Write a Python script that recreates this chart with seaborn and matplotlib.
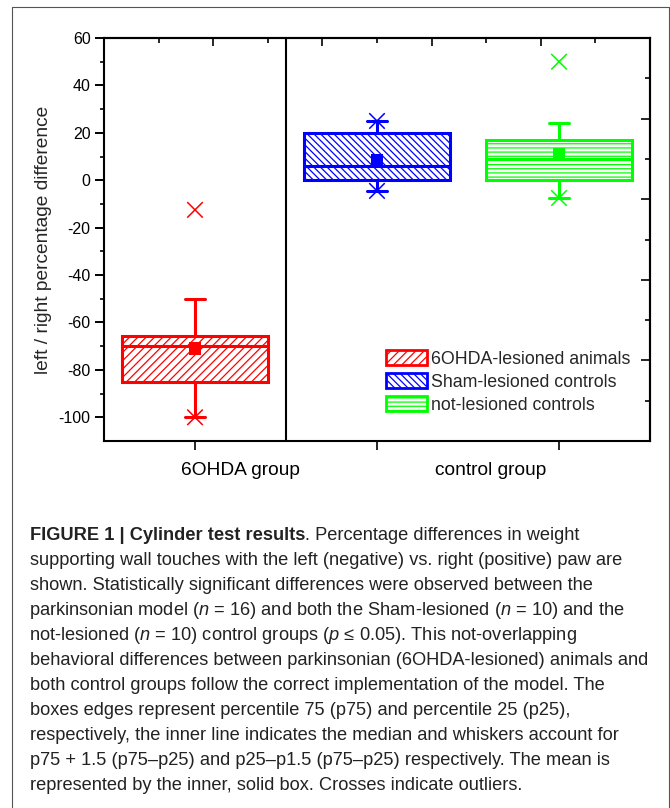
import numpy as np
import pandas as pd
import matplotlib
matplotlib.use("Agg")
import matplotlib.pyplot as plt
import seaborn as sns
from matplotlib.patches import Patch
from matplotlib.lines import Line2D
from matplotlib import font_manager

# ---------------- data ----------------
groups = ["6OHDA-lesioned animals", "Sham-lesioned controls", "not-lesioned controls"]
positions = [1, 3, 5]
colors = ["#FF0000", "#0000FF", "#00FF00"]
hatches = ["////", "\\\\\\\\\\", "----"]
q1 = [-85.0, 0.0, 0.0]
median = [-70.0, 6.0, 9.0]
q3 = [-65.5, 20.0, 17.0]
whisker_low = [-100.0, -4.5, -7.5]
whisker_high = [-50.0, 25.0, 24.0]
means = [-71.0, 8.5, 11.0]
minimum = [-100.0, -4.5, -7.5]
maximum = [-12.5, 25.0, 50.0]

group_labels = ["6OHDA group", "control group"]
group_label_x = [1.5, 4.25]
yticks_major = [-100, -80, -60, -40, -20, 0, 20, 40, 60]
yticks_minor = [-90, -70, -50, -30, -10, 10, 30, 50]
top_ticks_major = [1.2, 2.4, 3.6, 4.8]
top_ticks_minor = [0.6, 1.8, 3.0, 4.2, 5.4]
right_ticks_major = [26, -8, -42, -76]
right_ticks_minor = [43, 9, -25, -59, -93]
ylabel = "left / right percentage difference"

caption_bold = "FIGURE 1 | Cylinder test results"
caption_lines = [
    ". Percentage differences in weight",
    "supporting wall touches with the left (negative) vs. right (positive) paw are",
    "shown. Statistically significant differences were observed between the",
    "parkinsonian model ($n$ = 16) and both the Sham-lesioned ($n$ = 10) and the",
    "not-lesioned ($n$ = 10) control groups ($p$ \u2264 0.05). This not-overlapping",
    "behavioral differences between parkinsonian (6OHDA-lesioned) animals and",
    "both control groups follow the correct implementation of the model. The",
    "boxes edges represent percentile 75 (p75) and percentile 25 (p25),",
    "respectively, the inner line indicates the median and whiskers account for",
    "p75 + 1.5 (p75\u2013p25) and p25\u2013p1.5 (p75\u2013p25) respectively. The mean is",
    "represented by the inner, solid box. Crosses indicate outliers.",
]

# ---------------- style ----------------
sns.set_theme(style="ticks")
names = {f.name for f in font_manager.fontManager.ttflist}
cap_family = "Liberation Sans Narrow" if "Liberation Sans Narrow" in names else "Liberation Sans"
plt.rcParams["font.family"] = ["Liberation Sans", "DejaVu Sans"]
plt.rcParams["mathtext.fontset"] = "custom"
plt.rcParams["mathtext.rm"] = cap_family
plt.rcParams["mathtext.it"] = cap_family + ":italic"
plt.rcParams["hatch.linewidth"] = 0.9
plt.rcParams["axes.linewidth"] = 1.5

W, H = 670, 808
fig = plt.figure(figsize=(W / 100, H / 100), dpi=100)
fig.patch.set_facecolor("white")
L, R, T, B = 104, 650, 38, 441
ax = fig.add_axes([L / W, 1 - B / H, (R - L) / W, (B - T) / H])
ax.set_facecolor("white")

# ---------------- boxes ----------------
stats = []
for i in range(len(groups)):
    stats.append(dict(med=median[i], q1=q1[i], q3=q3[i], whislo=whisker_low[i],
                      whishi=whisker_high[i], mean=means[i], fliers=[], label=groups[i]))
bp = ax.bxp(stats, positions=positions, widths=1.6, capwidths=0.22, patch_artist=True,
            showmeans=False, showfliers=False, manage_ticks=False)
for i in range(len(groups)):
    c = colors[i]
    bp["boxes"][i].set(facecolor="white", edgecolor=c, linewidth=2.2, hatch=hatches[i], zorder=3)
    bp["medians"][i].set(color=c, linewidth=2.2, zorder=4)
    for j in (2 * i, 2 * i + 1):
        bp["whiskers"][j].set(color=c, linewidth=2.2, zorder=2)
        bp["caps"][j].set(color=c, linewidth=2.2, zorder=2)

df_mean = pd.DataFrame({"x": positions, "y": means, "g": groups})
sns.scatterplot(data=df_mean, x="x", y="y", hue="g", palette=colors, marker="s", s=78,
                edgecolor="none", linewidth=0, legend=False, ax=ax, zorder=6)
df_ext = pd.DataFrame({"x": positions * 2, "y": minimum + maximum, "g": groups * 2})
sns.scatterplot(data=df_ext, x="x", y="y", hue="g", palette=colors, marker="x", s=125,
                linewidth=1.1, legend=False, ax=ax, zorder=6)

ax.axvline(2, color="black", lw=1.5, zorder=1)

# ---------------- axes ----------------
ax.set_xlim(0, 6)
ax.set_ylim(-110, 60)
ax.set_xlabel("")
ax.set_ylabel(ylabel, fontsize=13.8, labelpad=5)
ax.set_yticks(yticks_major)
ax.set_yticks(yticks_minor, minor=True)
ax.set_yticklabels([str(v) for v in yticks_major], fontsize=11.5)
ax.set_xticks(positions)
ax.set_xticklabels([])
ax.tick_params(axis="y", which="major", direction="out", length=6.2, width=1.4, pad=3.5, colors="black")
ax.tick_params(axis="y", which="minor", direction="out", length=3.1, width=1.4)
ax.tick_params(axis="x", which="major", direction="out", length=6.5, width=1.4)
ax.tick_params(axis="x", which="minor", bottom=False)
for s in ax.spines.values():
    s.set_visible(True)
    s.set_color("black")
    s.set_linewidth(1.5)

sec_x = ax.secondary_xaxis("top")
sec_x.set_xticks(top_ticks_major)
sec_x.set_xticks(top_ticks_minor, minor=True)
sec_x.tick_params(which="both", direction="in", labeltop=False, width=1.4)
sec_x.tick_params(which="major", length=6.0)
sec_x.tick_params(which="minor", length=3.6)
sec_x.spines["top"].set_linewidth(1.5)

sec_y = ax.secondary_yaxis("right")
sec_y.set_yticks(right_ticks_major)
sec_y.set_yticks(right_ticks_minor, minor=True)
sec_y.tick_params(which="both", direction="in", labelright=False, width=1.4)
sec_y.tick_params(which="major", length=6.5)
sec_y.tick_params(which="minor", length=3.6)
sec_y.spines["right"].set_linewidth(1.5)

for lab, xx in zip(group_labels, group_label_x):
    ax.text(xx, -0.072, lab, transform=ax.get_xaxis_transform(), ha="center", va="center",
            fontsize=13.8, color="black")

# ---------------- legend ----------------
handles = [Patch(facecolor="white", edgecolor=colors[i], hatch=hatches[i], linewidth=2.0)
           for i in range(len(groups))]
ax.legend(handles, groups, loc="upper left", bbox_to_anchor=(0.516, 0.226), frameon=False,
          fontsize=12.8, handlelength=2.3, handleheight=0.95, handletextpad=0.25,
          labelspacing=0.3, borderpad=0, borderaxespad=0)

# ---------------- frame ----------------
fc = "#555555"
fig.add_artist(Line2D([12 / W, 12 / W], [0, 1 - 7 / H], transform=fig.transFigure, color=fc, lw=0.8))
fig.add_artist(Line2D([669 / W, 669 / W], [0, 1 - 7 / H], transform=fig.transFigure, color=fc, lw=0.8))
fig.add_artist(Line2D([12 / W, 669 / W], [1 - 7 / H, 1 - 7 / H], transform=fig.transFigure, color=fc, lw=0.8))

# ---------------- caption ----------------
fig.canvas.draw()
renderer = fig.canvas.get_renderer()
probe = fig.text(0, 0, caption_lines[5], fontsize=10, family=cap_family)
wpx = probe.get_window_extent(renderer).width
probe.remove()
cap_size = 10 * 620 / wpx

x0 = 30
y0 = 535
dy = 25.1
tb = fig.text(x0 / W, 1 - y0 / H, caption_bold, fontsize=cap_size, family=cap_family,
              fontweight="bold", va="center", ha="left", color="#222222")
bb = tb.get_window_extent(renderer)
fig.text(bb.x1 / W, 1 - y0 / H, caption_lines[0], fontsize=cap_size, family=cap_family,
         va="center", ha="left", color="#222222")
for k in range(1, len(caption_lines)):
    xs = x0 - 1 if "$" in caption_lines[k] else x0
    fig.text(xs / W, 1 - (y0 + k * dy) / H, caption_lines[k], fontsize=cap_size,
             family=cap_family, va="center", ha="left", color="#222222")

fig.savefig("out.png", dpi=100, facecolor="white")
